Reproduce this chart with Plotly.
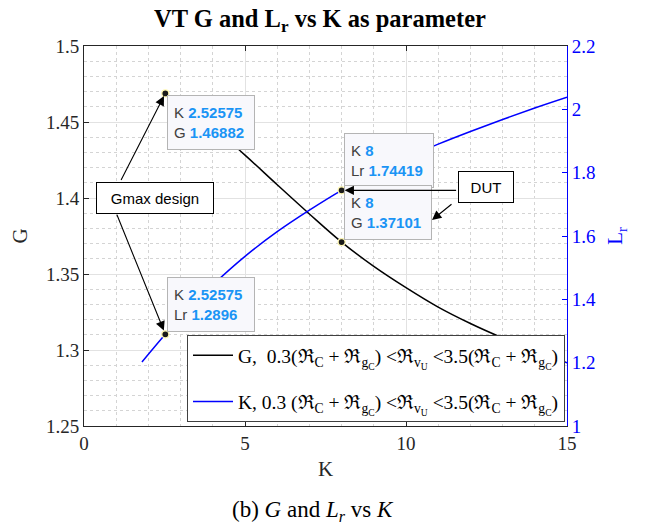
import plotly.graph_objects as go

# G curve (left axis) versus K
k_g = [2.52575, 3.0, 3.5, 4.0, 5.0, 6.0, 7.0, 8.0, 9.0, 10.0, 11.0, 12.0, 13.0, 14.0, 15.0]
g_vals = [1.46882, 1.4624, 1.4549, 1.4467, 1.4282, 1.4087, 1.3895, 1.37101, 1.3550, 1.3410,
          1.3282, 1.3174, 1.3079, 1.2994, 1.2916]

# Lr curve (right axis) versus K
k_lr = [1.8, 2.52575, 3.0, 3.5, 4.0, 5.0, 6.0, 7.0, 8.0, 9.0, 10.0, 11.0, 12.0, 13.0, 14.0, 15.0]
lr_vals = [1.202, 1.2896, 1.3427, 1.3957, 1.4457, 1.5357, 1.6137, 1.6817, 1.74419, 1.798, 1.846,
           1.890, 1.930, 1.968, 2.004, 2.038]

# Design points
k_gmax, g_gmax, lr_gmax = 2.52575, 1.46882, 1.2896
k_dut, g_dut, lr_dut = 8.0, 1.37101, 1.74419

x_ticks = [0, 5, 10, 15]
g_ticks = [1.25, 1.3, 1.35, 1.4, 1.45, 1.5]
g_ticktext = ["1.25", "1.3", "1.35", "1.4", "1.45", "1.5"]
lr_ticks = [1.0, 1.2, 1.4, 1.6, 1.8, 2.0, 2.2]
lr_ticktext = ["1", "1.2", "1.4", "1.6", "1.8", "2", "2.2"]

SERIF = "Liberation Serif, Times New Roman, serif"
SANS = "Liberation Sans, Arial, Helvetica, sans-serif"
BLUE = "#0000ff"
TIPBLUE = "#1a94f5"
AXCOL = "#262626"

# plot-area geometry in pixels, used to place the free-standing text boxes
L, R, T, B = 84, 567, 46, 426
XR = (0.0, 15.0)
YR = (1.25, 1.5)


def px_x(px):
    return XR[0] + (px - L) / (R - L) * (XR[1] - XR[0])


def px_y(py):
    return YR[1] - (py - T) / (B - T) * (YR[1] - YR[0])


leg_g = ("G,&nbsp; 0.3(ℜ<sub>C</sub> + ℜ<sub>g<sub>C</sub></sub>) &lt;ℜ<sub>v<sub>U</sub></sub> "
         "&lt;3.5(ℜ<sub>C</sub> + ℜ<sub>g<sub>C</sub></sub>)")
leg_k = ("K, 0.3 (ℜ<sub>C</sub> + ℜ<sub>g<sub>C</sub></sub>) &lt;ℜ<sub>v<sub>U</sub></sub> "
         "&lt;3.5(ℜ<sub>C</sub> + ℜ<sub>g<sub>C</sub></sub>)")

fig = go.Figure()
fig.add_trace(go.Scatter(x=k_g, y=g_vals, mode="lines", line=dict(color="black", width=1.5),
                         name=leg_g, line_shape="spline", legendgroup="g"))
fig.add_trace(go.Scatter(x=k_lr, y=lr_vals, mode="lines", line=dict(color=BLUE, width=1.5),
                         name=leg_k, yaxis="y2", line_shape="spline", legendgroup="k"))

# datatip markers
mk = dict(color="#1a1a1a", size=7, line=dict(color="#fff7b0", width=1.2))
fig.add_trace(go.Scatter(x=[k_gmax, k_dut], y=[g_gmax, g_dut], mode="markers", marker=mk,
                         showlegend=False))
fig.add_trace(go.Scatter(x=[k_gmax, k_dut], y=[lr_gmax, lr_dut], mode="markers", marker=mk,
                         showlegend=False, yaxis="y2"))


def tip(label, kval, val, x, y, yref, yanchor, ysh, width=74):
    txt = (f"<span style='color:#404040'>K</span> <b><span style='color:{TIPBLUE}'>{kval}</span></b><br>"
           f"<span style='color:#404040'>{label}</span> <b><span style='color:{TIPBLUE}'>{val}</span></b>")
    return dict(x=x, y=y, xref="x", yref=yref, text=txt, showarrow=False, xanchor="left",
                yanchor=yanchor, xshift=2, yshift=ysh, align="left", width=width, height=41,
                bgcolor="#f8f8fc", bordercolor="#b4b4b4", borderwidth=1, borderpad=6,
                font=dict(family=SANS, size=15))


annotations = [
    tip("G", "2.52575", "1.46882", k_gmax, g_gmax, "y", "top", -2),
    tip("Lr", "2.52575", "1.2896", k_gmax, lr_gmax, "y2", "bottom", 2),
    tip("Lr", "8", "1.74419", k_dut, lr_dut, "y2", "bottom", 2, width=76),
    tip("G", "8", "1.37101", k_dut, g_dut, "y", "bottom", 2),
]

# labelled text boxes
annotations += [
    dict(x=px_x(96), y=px_y(182), xref="x", yref="y", xanchor="left", yanchor="top",
         text="Gmax design", showarrow=False, width=104, height=18,
         font=dict(family=SANS, size=15, color="black"),
         bgcolor="white", bordercolor="black", borderwidth=1, borderpad=6),
    dict(x=px_x(458), y=px_y(171), xref="x", yref="y", xanchor="left", yanchor="top",
         text="DUT", showarrow=False, width=42, height=18,
         font=dict(family=SANS, size=15, color="black"),
         bgcolor="white", bordercolor="black", borderwidth=1, borderpad=6),
]

# arrows from the text boxes to the design points
arr = dict(showarrow=True, arrowhead=2, arrowsize=1.7, arrowwidth=1.1, arrowcolor="black", text="")
annotations += [
    dict(x=k_gmax, y=g_gmax, xref="x", yref="y", ax=-45, ay=88, standoff=3, **arr),
    dict(x=k_gmax, y=lr_gmax, xref="x", yref="y2", ax=-49, ay=-121, standoff=4, **arr),
    dict(x=k_dut, y=lr_dut, xref="x", yref="y2", ax=116, ay=0, standoff=3, **arr),
    dict(x=px_x(432), y=px_y(220), xref="x", yref="y", ax=21, ay=-17, standoff=0, **arr),
]

# caption
annotations.append(dict(x=(313 - L) / (R - L), y=(B - 511) / (B - T), xref="paper", yref="paper",
                        xanchor="center", yanchor="middle",
                        text="(b) <i>G</i> and <i>L<sub>r</sub></i> vs <i>K</i>", showarrow=False,
                        font=dict(family=SERIF, size=23, color="black")))

fig.update_layout(
    width=656, height=528,
    margin=dict(l=L, r=656 - R, t=T, b=528 - B),
    paper_bgcolor="white", plot_bgcolor="white",
    title=dict(text="<b>VT G and L<sub>r</sub> vs K as parameter</b>", x=320 / 656,
               xanchor="center", y=1 - 18 / 528, yanchor="middle", yref="container",
               font=dict(family=SERIF, size=24.5, color="black")),
    xaxis=dict(range=list(XR), tickvals=x_ticks, ticks="inside", ticklen=5, tickcolor=AXCOL,
               showline=True, linecolor=AXCOL, linewidth=1, mirror="ticks",
               showgrid=True, gridcolor="#e2e2e2", gridwidth=1.2, zeroline=False,
               minor=dict(dtick=1, showgrid=True, gridcolor="#d4d4d4", griddash="dot"),
               tickfont=dict(family=SERIF, size=19, color=AXCOL),
               title=dict(text="K", font=dict(family=SERIF, size=21, color=AXCOL), standoff=8)),
    yaxis=dict(range=list(YR), tickvals=g_ticks, ticktext=g_ticktext, ticks="inside",
               ticklen=5, tickcolor=AXCOL, showline=True, linecolor=AXCOL, linewidth=1,
               showgrid=True, gridcolor="#e2e2e2", gridwidth=1.2, zeroline=False,
               minor=dict(dtick=0.01, showgrid=True, gridcolor="#d4d4d4", griddash="dot"),
               tickfont=dict(family=SERIF, size=19, color=AXCOL),
               title=dict(text="G", font=dict(family=SERIF, size=21, color=AXCOL), standoff=12)),
    yaxis2=dict(range=[1.0, 2.2], overlaying="y", side="right", tickvals=lr_ticks,
                ticktext=lr_ticktext, ticks="inside", ticklen=5, tickcolor=BLUE,
                showline=True, linecolor=BLUE, linewidth=1, showgrid=False, zeroline=False,
                tickfont=dict(family=SERIF, size=19, color=BLUE),
                title=dict(text="L<sub>r</sub>", font=dict(family=SERIF, size=21, color=BLUE),
                           standoff=12)),
    legend=dict(x=(565 - L) / (R - L), xanchor="right", y=(B - 422) / (B - T), yanchor="bottom",
                bgcolor="white", bordercolor="#404040", borderwidth=1,
                font=dict(family=SERIF, size=19.5, color="black"), itemwidth=40,
                tracegroupgap=18),
    annotations=annotations,
    showlegend=True,
)

fig.write_html("out.html")
